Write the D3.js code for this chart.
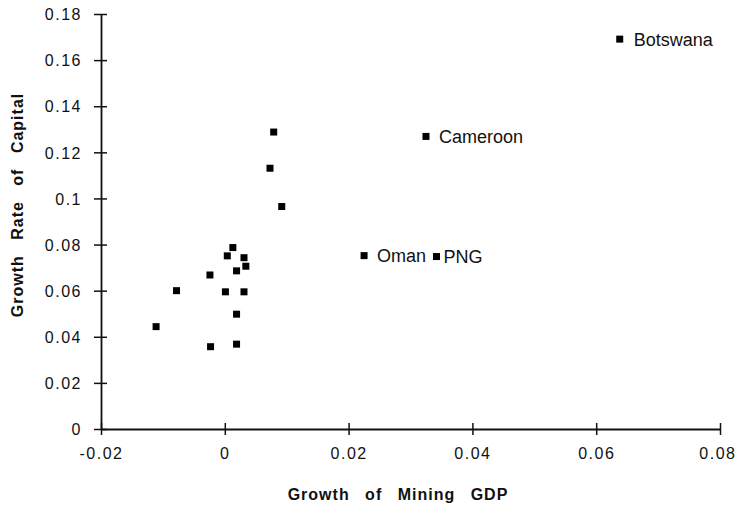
<!DOCTYPE html>
<html>
<head>
<meta charset="utf-8">
<script src="https://cdn.jsdelivr.net/npm/d3@7"></script>
<style>
  body { margin: 0; background: #fff; }
  svg { display: block; font-family: "Liberation Sans", Arial, sans-serif; }
  .tick text { font-size: 16px; letter-spacing: 1.5px; fill: #111; }
  .axis-title { font-size: 16px; font-weight: bold; letter-spacing: 1px; word-spacing: 10px; fill: #111; }
  .country { font-size: 18px; fill: #111; }
</style>
</head>
<body>
<svg></svg>
<script>
// Unlabelled countries (growth of mining GDP, growth rate of capital)
const miningGrowth = [0.0079, 0.0073, 0.0092, 0.0013, 0.0004, 0.0031, 0.0034, 0.0019,
  -0.0024, -0.0078, 0.0001, 0.0031, 0.0019, -0.0111, -0.0023, 0.0019];
const capitalGrowth = [0.1288, 0.1131, 0.0965, 0.0787, 0.0751, 0.0743, 0.0706, 0.0686,
  0.0668, 0.0600, 0.0595, 0.0595, 0.0498, 0.0444, 0.0357, 0.0368];

// Labelled countries
const namedCountries = ["Botswana", "Cameroon", "Oman", "PNG"];
const namedMining = [0.0638, 0.0325, 0.0225, 0.0342];
const namedCapital = [0.1691, 0.1269, 0.0752, 0.0748];

const xTicks = [-0.02, 0, 0.02, 0.04, 0.06, 0.08];
const yTicks = [0, 0.02, 0.04, 0.06, 0.08, 0.1, 0.12, 0.14, 0.16, 0.18];

const width = 738, height = 508;
const svg = d3.select("svg").attr("width", width).attr("height", height);

const x = d3.scaleLinear().domain([-0.02, 0.08]).range([101, 720]);
const y = d3.scaleLinear().domain([0, 0.18]).range([429, 14]);

// plain hyphen minus like the original
const fmt = d => String(+d.toFixed(2));

// label gap from marker centre (PNG sits closer to its marker)
const labelGap = { Botswana: 14, Cameroon: 13, Oman: 13, PNG: 7 };

// x axis, ticks cross the line
const xAxis = svg.append("g")
  .attr("transform", `translate(0, ${y(0)})`)
  .call(d3.axisBottom(x).tickValues(xTicks).tickSize(0).tickFormat(fmt));
xAxis.select(".domain").attr("stroke", "#111").attr("stroke-width", 1.8);
xAxis.selectAll(".tick line").attr("y1", -6).attr("y2", 6).attr("stroke", "#111").attr("stroke-width", 1.5);
xAxis.selectAll(".tick text").attr("y", 30).attr("dy", "0");
// last label sits inside the right edge
xAxis.selectAll(".tick text").filter(d => d === 0.08).attr("text-anchor", "end").attr("x", 16);

// y axis
const yAxis = svg.append("g")
  .attr("transform", `translate(${x(-0.02)}, 0)`)
  .call(d3.axisLeft(y).tickValues(yTicks).tickSize(0).tickFormat(fmt));
yAxis.select(".domain").attr("stroke", "#111").attr("stroke-width", 1.8);
yAxis.selectAll(".tick line").attr("x1", -7).attr("x2", 6).attr("stroke", "#111").attr("stroke-width", 1.5);
yAxis.selectAll(".tick text").attr("x", -19).attr("dy", "0.36em");

// axis titles
svg.append("text")
  .attr("class", "axis-title")
  .attr("x", 398)
  .attr("y", 500)
  .attr("text-anchor", "middle")
  .text("Growth of Mining GDP");

svg.append("text")
  .attr("class", "axis-title")
  .attr("transform", "translate(23, 205) rotate(-90)")
  .attr("text-anchor", "middle")
  .text("Growth Rate of Capital");

// unlabelled points
const s = 7;
svg.append("g")
  .selectAll("rect")
  .data(d3.zip(miningGrowth, capitalGrowth))
  .enter()
  .append("rect")
  .attr("x", d => x(d[0]) - s / 2)
  .attr("y", d => y(d[1]) - s / 2)
  .attr("width", s)
  .attr("height", s)
  .attr("fill", "#000");

// labelled points
const named = svg.append("g")
  .selectAll("g")
  .data(namedCountries.map((name, i) => ({ name, mx: namedMining[i], cap: namedCapital[i] })))
  .enter()
  .append("g")
  .attr("transform", d => `translate(${x(d.mx)}, ${y(d.cap)})`);

named.append("rect")
  .attr("x", -s / 2)
  .attr("y", -s / 2)
  .attr("width", s)
  .attr("height", s)
  .attr("fill", "#000");

named.append("text")
  .attr("class", "country")
  .attr("x", d => labelGap[d.name])
  .attr("dy", "0.36em")
  .text(d => d.name);
</script>
</body>
</html>
